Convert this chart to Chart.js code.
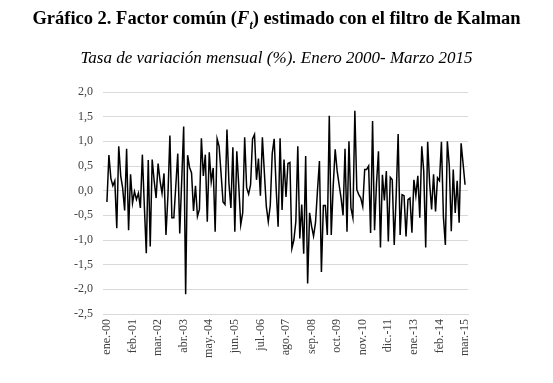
<!DOCTYPE html>
<html>
<head>
<meta charset="utf-8">
<script src="https://cdn.jsdelivr.net/npm/chart.js@4.4.1/dist/chart.umd.min.js"></script>
<style>
  html, body { margin: 0; padding: 0; background: #ffffff; }
  #wrap { position: relative; width: 553px; height: 383px; background: #ffffff; }
  #chart { position: absolute; left: 0; top: 0; }
  .t1 { position: absolute; left: 0; top: 7px; width: 553px; text-align: center;
        font: bold 18.5px "Liberation Serif", "DejaVu Serif", serif; line-height: 22px; color: #000; }
  .t2 { position: absolute; left: 0; top: 48px; width: 553px; text-align: center;
        font: italic 17px "Liberation Serif", "DejaVu Serif", serif; line-height: 20px; color: #000; }
  sub { font-size: 12px; line-height: 0; }
</style>
</head>
<body>
<div id="wrap">
  <canvas id="chart" width="553" height="383"></canvas>
  <div class="t1">Gráfico 2. Factor común (<i>F</i><sub><i>t</i></sub>) estimado con el filtro de Kalman</div>
  <div class="t2">Tasa de variación mensual (%). Enero 2000- Marzo 2015</div>
</div>
<script>
// Monthly values, Jan 2000 - Mar 2015 (183 months)
const values = [
  -0.23, 0.72, 0.25, 0.10, 0.20, -0.76, 0.90, 0.30, 0.05, -0.40,
  0.85, -0.80, 0.33, -0.25, -0.02, -0.18, -0.05, -0.35, 0.73, -0.30,
  -1.27, 0.62, -1.13, 0.63, 0.20, -0.15, 0.55, 0.20, -0.05, 0.35,
  -0.90, -0.10, 1.12, -0.55, -0.55, 0.10, 0.75, -0.87, 0.20, 1.30,
  -2.10, 0.72, 0.47, 0.36, -0.41, 0.10, -0.52, -0.38, 1.06, 0.30,
  0.73, -0.63, 0.78, 0.18, 0.46, -0.83, 1.05, 0.90, 0.35, -0.23,
  -0.28, 1.24, 0.15, -0.35, 0.88, -0.83, 0.80, 0.10, -0.69, -0.45,
  1.08, 0.06, -0.07, 0.12, 1.05, 1.14, 0.22, 0.65, -0.10, 1.08,
  0.37, -0.32, -0.63, -0.30, 0.75, 1.05, 0.05, -0.73, 1.06, -0.39,
  0.63, -0.13, 0.55, 0.57, -1.17, -1.00, -0.63, 0.90, -0.97, -0.28,
  -1.28, 0.70, -1.88, -0.45, -0.72, -0.92, -0.65, 0.00, 0.60, -1.65,
  -0.30, -0.30, -0.90, 1.52, -0.90, 0.10, 0.84, 0.40, 0.12, -0.15,
  -0.50, 0.85, -0.83, 1.00, -0.35, -0.55, 1.62, 0.02, -0.08, -0.15,
  -0.32, 0.43, 0.43, 0.50, -0.86, 1.41, -0.80, 0.15, 0.80, -1.15,
  0.32, -0.20, 0.40, -1.03, 0.27, 0.22, -1.10, -0.10, 1.15, -0.90,
  -0.08, -0.10, -0.93, -0.18, -0.15, -0.85, 0.22, -0.10, 0.30, -0.55,
  0.90, 0.40, -1.15, 0.99, 0.15, -0.38, 0.33, -0.42, 0.26, 0.20,
  0.99, -0.53, -1.10, 1.00, 0.50, -0.82, 0.43, -0.45, 0.20, -0.65,
  0.96, 0.55, 0.12
];

// Axis tick labels (every 13 months)
const tickLabels = [
  "ene.-00", "feb.-01", "mar.-02", "abr.-03", "may.-04", "jun.-05", "jul.-06",
  "ago.-07", "sep.-08", "oct.-09", "nov.-10", "dic.-11", "ene.-13", "feb.-14", "mar.-15"
];
const tickStep = 13;
const yTicks = [-2.5, -2.0, -1.5, -1.0, -0.5, 0.0, 0.5, 1.0, 1.5, 2.0];

const points = values.map((v, i) => ({ x: i, y: v }));
const tickFont = { family: "'Liberation Serif', 'DejaVu Serif', serif", size: 12 };

new Chart(document.getElementById('chart'), {
  type: 'line',
  data: {
    datasets: [{
      data: points,
      borderColor: '#000000',
      borderWidth: 1.5,
      pointRadius: 0,
      tension: 0,
      fill: false
    }]
  },
  options: {
    responsive: false,
    animation: false,
    devicePixelRatio: 1,
    layout: { padding: { top: 92, right: 85, bottom: 0, left: 0 } },
    plugins: { legend: { display: false }, tooltip: { enabled: false }, title: { display: false } },
    scales: {
      x: {
        type: 'linear',
        min: -2,
        max: 183.5,
        afterBuildTicks: (s) => { s.ticks = tickLabels.map((_, k) => ({ value: k * tickStep })); },
        afterFit: (s) => { s.height = 69; },
        grid: { display: false, drawTicks: false },
        border: { display: true, color: '#d9d9d9', width: 1 },
        ticks: {
          autoSkip: false,
          maxRotation: 90,
          minRotation: 90,
          padding: 5,
          color: '#404040',
          font: tickFont,
          callback: (v) => tickLabels[Math.round(v / tickStep)]
        }
      },
      y: {
        min: -2.5,
        max: 2.0,
        afterBuildTicks: (s) => { s.ticks = yTicks.map(v => ({ value: v })); },
        afterFit: (s) => { s.width = 103; },
        grid: { color: '#d9d9d9', lineWidth: 1, drawTicks: false },
        border: { display: false },
        ticks: {
          padding: 10,
          color: '#404040',
          font: tickFont,
          callback: (v) => v.toFixed(1).replace('.', ',')
        }
      }
    }
  }
});
</script>
</body>
</html>
